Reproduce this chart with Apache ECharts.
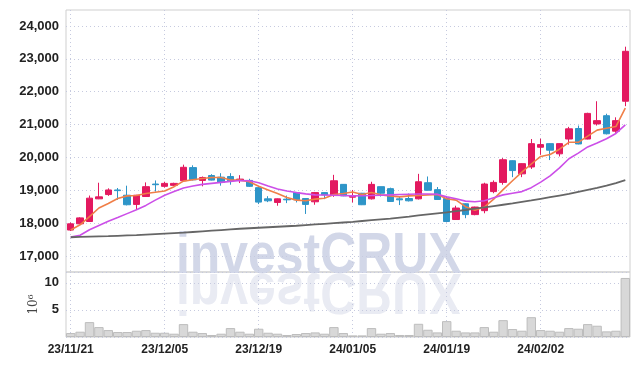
<!DOCTYPE html>
<html>
<head>
<meta charset="utf-8">
<script src="https://cdn.jsdelivr.net/npm/echarts@6/dist/echarts.min.js"></script>
<style>
html,body{margin:0;padding:0;background:#fff;}
#chart{width:639px;height:366px;}
</style>
</head>
<body>
<div id="chart"></div>
<script>
const dates = ['23/11/21','23/11/22','23/11/23','23/11/24','23/11/27','23/11/28','23/11/29','23/11/30','23/12/01','23/12/04',
'23/12/05','23/12/06','23/12/07','23/12/08','23/12/11','23/12/12','23/12/13','23/12/14','23/12/15','23/12/18',
'23/12/19','23/12/20','23/12/21','23/12/22','23/12/26','23/12/27','23/12/28','24/01/02','24/01/03','24/01/04',
'24/01/05','24/01/08','24/01/09','24/01/10','24/01/11','24/01/12','24/01/15','24/01/16','24/01/17','24/01/18',
'24/01/19','24/01/22','24/01/23','24/01/24','24/01/25','24/01/26','24/01/29','24/01/30','24/01/31','24/02/01',
'24/02/02','24/02/05','24/02/06','24/02/07','24/02/08','24/02/13','24/02/14','24/02/15','24/02/16','24/02/19'];

const opens = [17790,17980,18050,18740,18870,19010,18850,18570,18810,19190,
19120,19150,19290,19690,19300,19450,19400,19420,19310,19300,
19080,18740,18630,18730,18930,18750,18650,18930,18840,19180,
18790,18910,18740,19110,19050,18740,18750,18740,19230,19020,
18750,18110,18590,18260,18380,18960,19240,19900,19500,19710,
20310,20420,20110,20560,20880,20560,21020,21270,20800,21710];
const closes = [17980,18160,18760,18800,19010,18990,18560,18850,19110,19170,
19210,19210,19700,19320,19390,19310,19240,19290,19340,19120,
18640,18680,18740,18710,18710,18570,18930,18860,19290,18830,
18820,18560,19180,18910,18660,18710,18680,19260,19000,18720,
18050,18460,18260,18490,19190,19240,19930,19600,19810,20420,
20390,20220,20420,20870,20410,21340,21120,20720,21120,23230];
const lows = [17760,17970,18040,18730,18830,18710,18540,18400,18800,18960,
19080,19130,19280,19300,19120,19300,19140,19170,19220,19100,
18580,18640,18530,18610,18630,18280,18560,18730,18800,18820,
18630,18550,18720,18810,18650,18550,18660,18720,18990,18710,
18040,18100,18150,18240,18300,18910,19170,19400,19400,19650,
20080,19920,20030,20390,20400,20550,20970,20700,20750,21560];
const highs = [18020,18180,18840,19230,19060,19070,19140,18860,19240,19300,
19260,19230,19780,19760,19420,19490,19520,19520,19460,19350,
19110,18820,18750,18840,18950,18760,18950,18940,19470,19190,
19010,18920,19260,19110,19080,18810,18900,19500,19420,19100,
18800,18530,18600,18500,19230,19300,19980,19910,19820,20560,
20570,20430,20430,20930,20970,21360,21710,21330,21220,23370];

const ma5 = [17790,17950,18200,18460,18600,18750,18830,18840,18900,18940,
18980,19110,19280,19320,19360,19390,19390,19310,19310,19260,
19120,19010,18900,18780,18700,18680,18730,18760,18870,18900,
18950,18870,18930,18860,18830,18800,18830,18840,18860,18870,
18740,18700,18500,18390,18490,18730,19020,19290,19550,19800,
20030,20090,20250,20460,20460,20650,20830,20890,20940,21500];
const ma20 = [17580,17630,17800,17930,18060,18170,18290,18410,18540,18700,
18850,18960,19070,19130,19180,19210,19240,19270,19300,19290,
19230,19130,19040,18980,18930,18890,18860,18855,18850,18840,
18830,18835,18840,18850,18860,18870,18880,18885,18885,18880,
18800,18740,18670,18650,18680,18770,18860,18910,18960,19080,
19250,19440,19680,19960,20130,20320,20440,20570,20730,20990];
const ma120 = [17570,17580,17590,17600,17605,17615,17625,17635,17650,17665,
17680,17695,17710,17730,17750,17770,17790,17810,17830,17845,
17860,17875,17890,17905,17920,17940,17960,17980,18000,18020,
18040,18065,18090,18115,18140,18170,18200,18235,18270,18300,
18330,18365,18400,18440,18480,18520,18560,18600,18645,18690,
18740,18790,18840,18890,18950,19010,19070,19140,19220,19310];

const volumes = [0.73,0.98,2.75,1.83,1.28,0.92,0.92,1.16,1.28,0.79,
0.79,0.61,2.38,0.98,0.73,0.37,0.61,1.65,0.98,0.61,
1.53,0.79,0.61,0.37,0.55,0.73,0.85,0.61,1.83,0.73,
0.30,0.30,1.65,0.61,0.73,0.37,0.37,2.44,1.34,0.85,
2.93,1.16,0.85,0.85,1.83,0.98,3.11,1.47,1.16,3.66,
1.28,1.16,0.98,1.65,1.53,2.38,2.08,1.04,1.16,10.9];

const priceMin = 17000, priceMax = 24000, priceStep = 1000;
const volMin = 0, volMax = 12, volStep = 5;
const watermark = 'investCRUX';
const volUnit = '10⁶';

const ohlc = dates.map((d, i) => [opens[i], closes[i], lows[i], highs[i]]);

const UP = '#e3195f', DOWN = '#2e95c8';
const labelFont = "'Liberation Sans', Arial, sans-serif";
const gridDot = {color: '#c6cadf', type: [1, 3], width: 1};
const wmFont = "bold 58px 'Liberation Sans', sans-serif";

const chart = echarts.init(document.getElementById('chart'), null, {renderer: 'canvas'});
chart.setOption({
  animation: false,
  backgroundColor: '#fff',
  graphic: [
    {type: 'text', left: 176, top: 228, z: 0, silent: true, scaleX: 0.86,
     style: {text: watermark, font: wmFont, fill: '#d2d7e8'}},
    {type: 'text', left: 176, top: 261, z: 0, silent: true, scaleX: 0.86, scaleY: -1, originY: 24,
     style: {text: watermark, font: wmFont, fill: '#e9ebf3'}}
  ],
  grid: [
    {left: 66, right: 9, top: 26, height: 230, show: false},
    {left: 66, right: 9, top: 272, height: 65, show: true, borderColor: '#cfcfcf', borderWidth: 1, backgroundColor: 'transparent'},
    {left: 66, right: 9, top: 10, height: 262, show: true, borderColor: '#cfcfcf', borderWidth: 1, backgroundColor: 'transparent'}
  ],
  xAxis: [
    {type: 'category', data: dates, gridIndex: 0, boundaryGap: true,
     axisLine: {show: false}, axisTick: {show: false}, axisLabel: {show: false}, splitLine: {show: false}},
    {type: 'category', data: dates, gridIndex: 1, boundaryGap: true,
     axisLine: {show: false}, axisTick: {show: false},
     axisLabel: {interval: 9, color: '#222', fontFamily: labelFont, fontWeight: 'bold', fontSize: 12, margin: 7},
     splitLine: {show: true, interval: 9, alignWithLabel: true, lineStyle: gridDot}},
    {type: 'category', data: dates, gridIndex: 2, boundaryGap: true,
     axisLine: {show: false}, axisTick: {show: false}, axisLabel: {show: false},
     splitLine: {show: true, interval: 9, alignWithLabel: true, lineStyle: gridDot}}
  ],
  yAxis: [
    {type: 'value', gridIndex: 0, min: priceMin, max: priceMax, interval: priceStep,
     axisLine: {show: false}, axisTick: {show: false},
     axisLabel: {color: '#222', fontFamily: labelFont, fontWeight: 'bold', fontSize: 13, margin: 7,
       formatter: v => v.toLocaleString('en-US')},
     splitLine: {lineStyle: gridDot}},
    {type: 'value', gridIndex: 1, min: volMin, max: volMax, interval: volStep,
     axisLine: {show: false}, axisTick: {show: false},
     name: volUnit, nameLocation: 'middle', nameGap: 26, nameRotate: 90, nameMoveOverlap: false,
     nameTextStyle: {color: '#444', fontSize: 12, fontFamily: "'DejaVu Serif', serif"},
     axisLabel: {color: '#222', fontFamily: labelFont, fontWeight: 'bold', fontSize: 13, margin: 7,
       formatter: v => (v === 0 || v === volMax ? '' : String(v))},
     splitLine: {lineStyle: gridDot}},
    {type: 'value', gridIndex: 2, min: 0, max: 1, show: false, splitLine: {show: false}}
  ],
  series: [
    {type: 'candlestick', name: 'price', xAxisIndex: 0, yAxisIndex: 0, data: ohlc, barWidth: '74%', z: 3,
     itemStyle: {color: UP, color0: DOWN, borderColor: UP, borderColor0: DOWN, borderWidth: 1}},
    {type: 'line', name: 'MA5', xAxisIndex: 0, yAxisIndex: 0, data: ma5, symbol: 'none', z: 4,
     lineStyle: {color: '#f07f48', width: 1.6}},
    {type: 'line', name: 'MA20', xAxisIndex: 0, yAxisIndex: 0, data: ma20, symbol: 'none', z: 4,
     lineStyle: {color: '#cc4fe8', width: 1.6}},
    {type: 'line', name: 'MA120', xAxisIndex: 0, yAxisIndex: 0, data: ma120, symbol: 'none', z: 4,
     lineStyle: {color: '#666666', width: 1.8}},
    {type: 'bar', name: 'volume', xAxisIndex: 1, yAxisIndex: 1, data: volumes, barWidth: '100%', z: 3,
     itemStyle: {color: '#d8d8d8', borderColor: '#bdbdbd', borderWidth: 1}}
  ]
});
</script>
</body>
</html>
